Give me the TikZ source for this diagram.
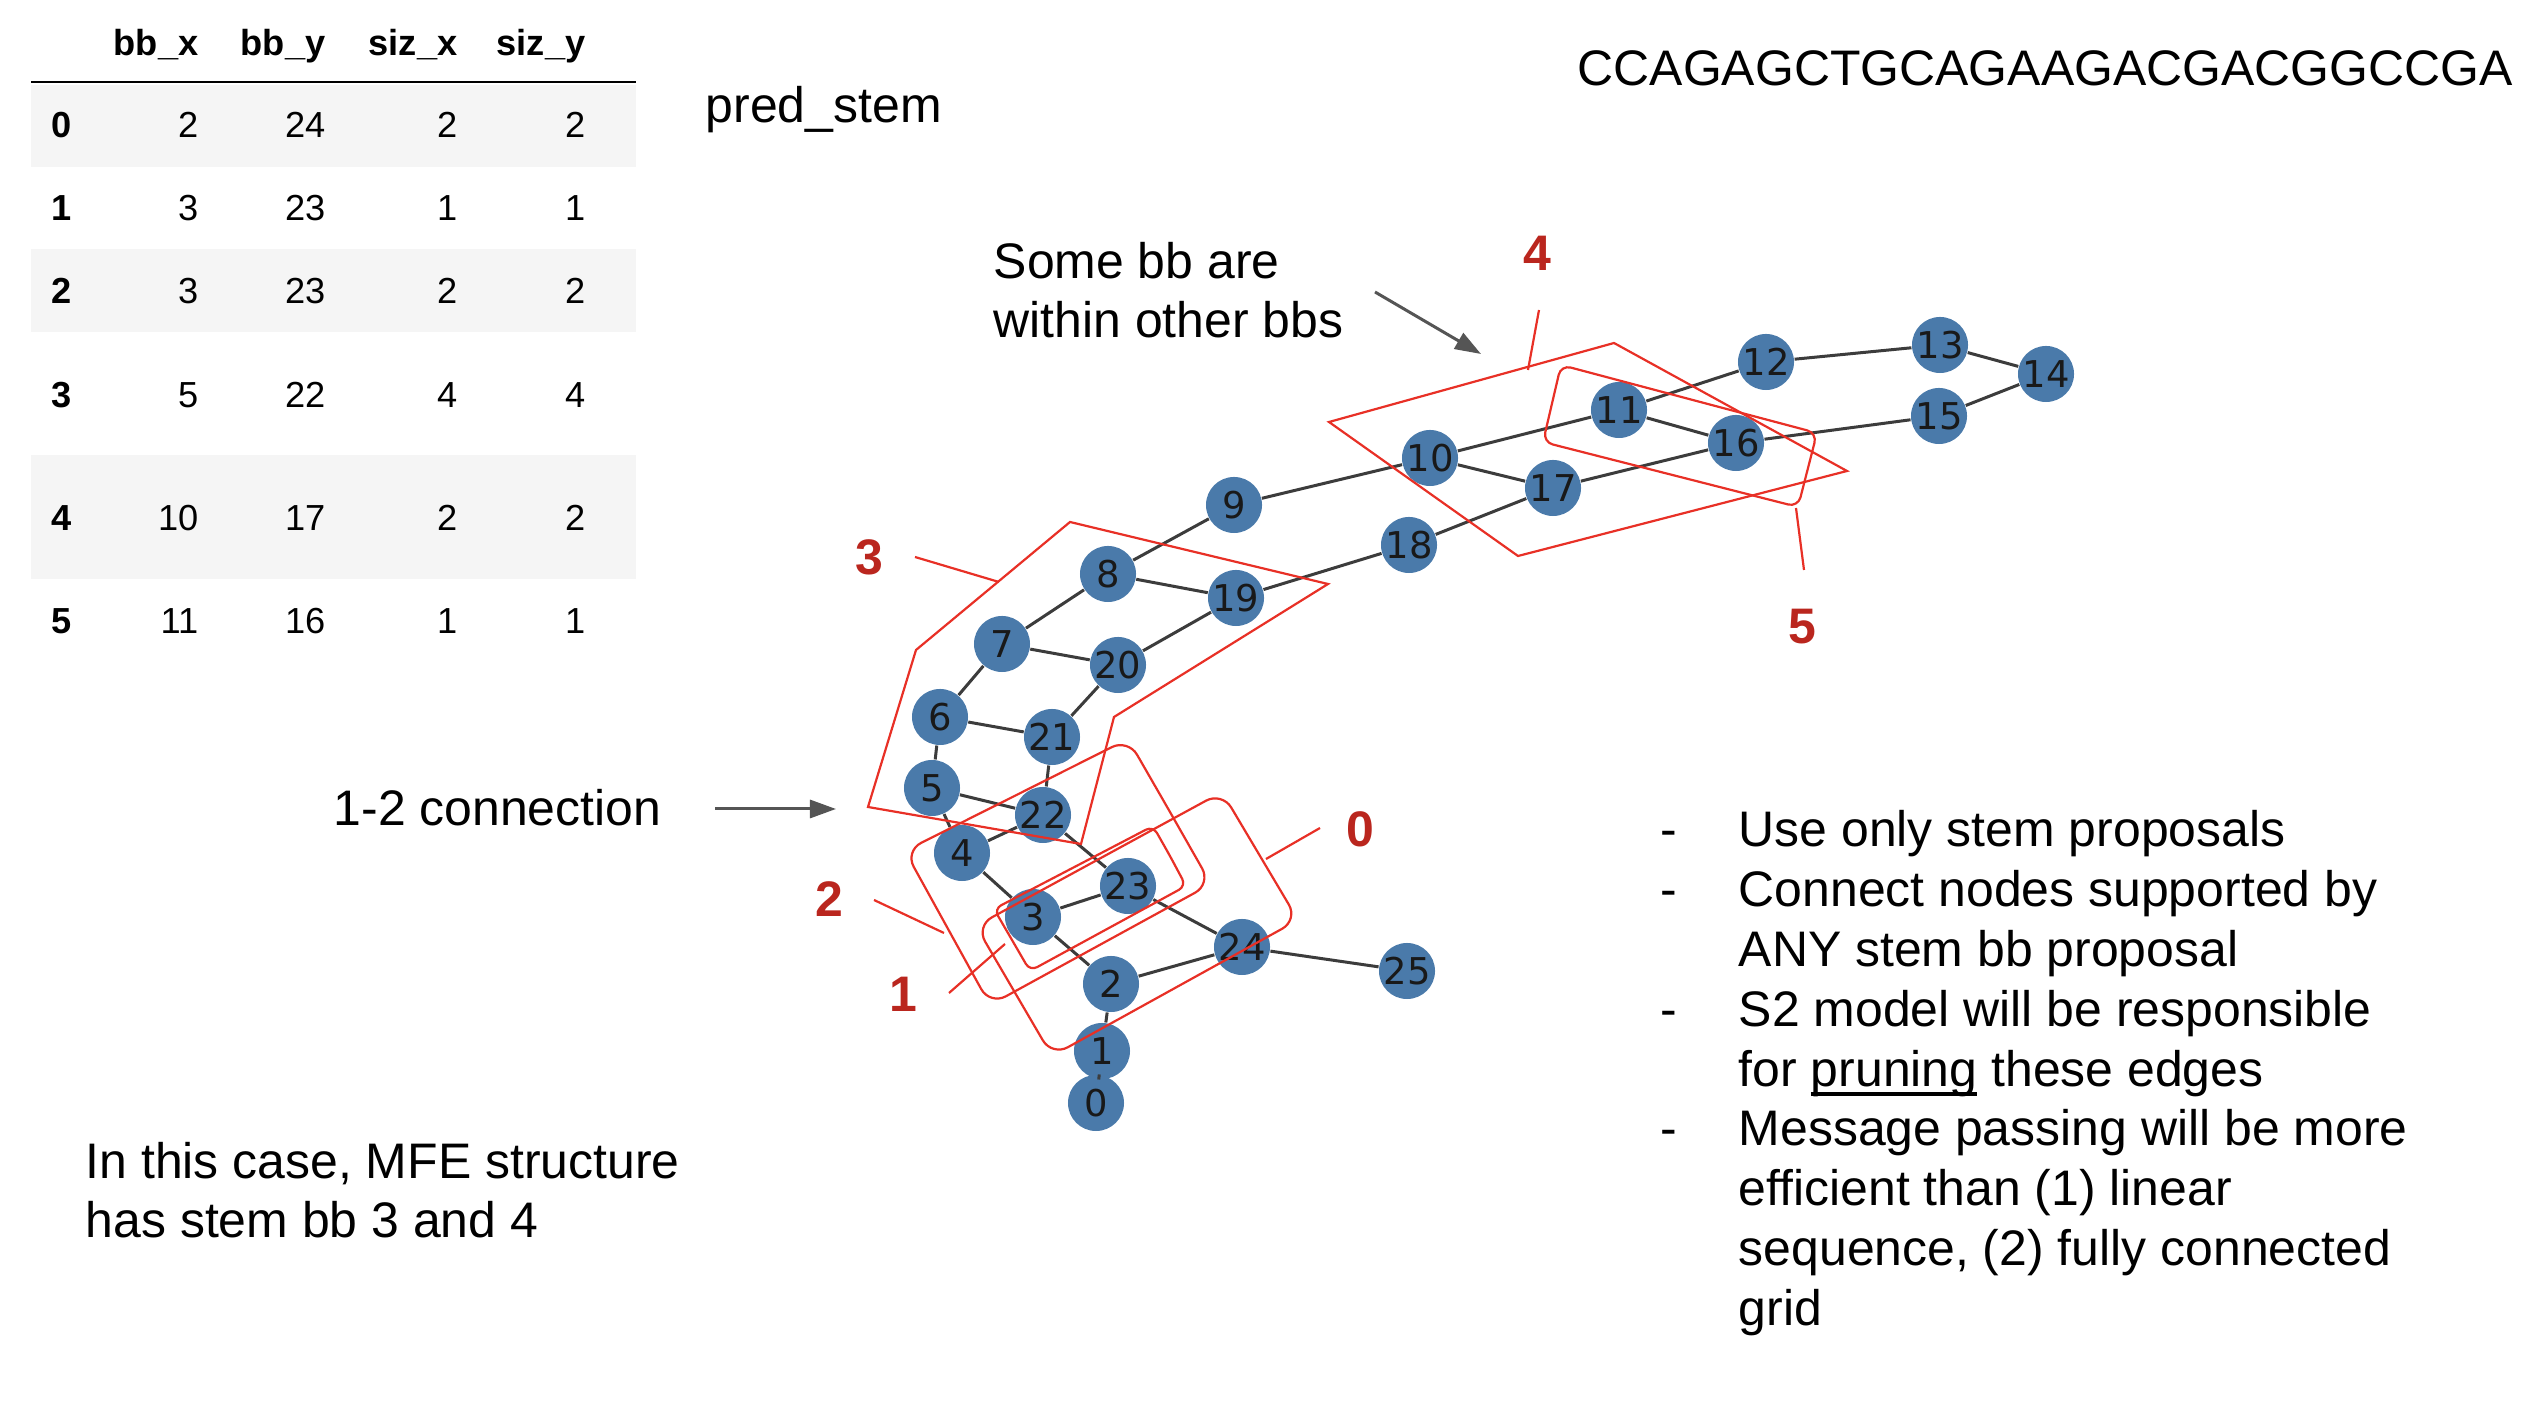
\documentclass[tikz,border=0pt]{standalone}
\usepackage{fontspec}
\setmainfont{Liberation Sans}
\newfontfamily\vtxfont{DejaVu Sans}
\usetikzlibrary{arrows.meta,positioning}

\definecolor{vtxblue}{RGB}{74,122,170}
\definecolor{bbred}{RGB}{232,48,38}
\definecolor{labred}{RGB}{186,38,30}
\definecolor{linkgray}{RGB}{60,60,60}
\definecolor{ptrgray}{RGB}{85,85,85}
\definecolor{rowgray}{RGB}{245,245,245}

\newsavebox\ulbox
\newcommand\thickul[1]{\sbox\ulbox{#1}\rlap{\rule[-2.9pt]{\wd\ulbox}{1.1pt}}\usebox\ulbox}

\begin{document}
\begin{tikzpicture}[x=0.01cm, y=-0.01cm,
    vtx/.style={circle, fill=vtxblue, minimum size=0.56cm, inner sep=0pt,
      font=\vtxfont\fontsize{10.5}{12}\selectfont, text=black!90},
    link/.style={draw=linkgray, line width=0.03cm},
    bbox/.style={draw=bbred, line width=0.022cm},
    bblab/.style={text=labred, inner sep=0pt, font=\bfseries\fontsize{14.2}{17}\selectfont},
    lead/.style={draw=bbred, line width=0.022cm},
    note/.style={anchor=base west, inner sep=0pt, align=left,
      font=\fontsize{14.2}{17}\selectfont},
    pointer/.style={draw=ptrgray, line width=0.03cm,
      -{Triangle[length=0.26cm,width=0.18cm]}},
    cell/.style={anchor=base east, inner sep=0pt, font=\fontsize{10.3}{12}\selectfont},
    hdr/.style={cell, font=\bfseries\fontsize{10.3}{12}\selectfont},
    idx/.style={cell, anchor=base west, font=\bfseries\fontsize{10.3}{12}\selectfont}]
    \useasboundingbox (0,0) rectangle (2544,1410);

    % pred_stem table
    \fill [rowgray] (31,85) rectangle (636,167);
    \fill [rowgray] (31,249) rectangle (636,332);
    \fill [rowgray] (31,455) rectangle (636,579);
    \draw [line width=0.02cm] (31,82) -- (636,82);
    \node [hdr] (hbbx) at (199,56) {bb\_x};
    \node [hdr] (hbby) at (326,56) {bb\_y};
    \node [hdr] (hsizx) at (458,56) {siz\_x};
    \node [hdr] (hsizy) at (586,56) {siz\_y};
    \foreach \r/\y/\a/\b/\c/\d in {0/138/2/24/2/2, 1/221/3/23/1/1, 2/304/3/23/2/2,
        3/408/5/22/4/4, 4/531/10/17/2/2, 5/634/11/16/1/1} {
      \node [idx] (i\r) at (51,\y) {\r};
      \node [cell] (bbx\r) at (199,\y) {\a};
      \node [cell] (bby\r) at (326,\y) {\b};
      \node [cell] (sizx\r) at (458,\y) {\c};
      \node [cell] (sizy\r) at (586,\y) {\d};
    }

    % texts (multi-line notes sit on their last baseline)
    \node [note] (title) at (705,123) {pred\_stem};
    \node [note] (seq) at (1577,86) {CCAGAGCTGCAGAAGACGACGGCCGA};
    \node [note] (within) at (993,338) {Some bb are\\within other bbs};
    \node [note] (conn) at (333,826) {1-2 connection};
    \node [note] (mfe) at (85,1238) {In this case, MFE structure\\has stem bb 3 and 4};
    \node [note] (bullets) at (1660,847) {\begin{tabular}[t]{@{}p{0.78cm}@{}l@{}}
      -&Use only stem proposals\\
      -&Connect nodes supported by\\
       &ANY stem bb proposal\\
      -&S2 model will be responsible\\
       &for \thickul{pruning} these edges\\
      -&Message passing will be more\\
       &efficient than (1) linear\\
       &sequence, (2) fully connected\\
       &grid
    \end{tabular}};

    % graph
    \node [vtx] (n0) at (1096,1103) {0};
    \node [vtx] (n1) at (1102,1051) {1};
    \node [vtx] (n2) at (1111,984) {2};
    \node [vtx] (n3) at (1033,917) {3};
    \node [vtx] (n4) at (962,853) {4};
    \node [vtx] (n5) at (932,788) {5};
    \node [vtx] (n6) at (940,717) {6};
    \node [vtx] (n7) at (1002,644) {7};
    \node [vtx] (n8) at (1108,574) {8};
    \node [vtx] (n9) at (1234,505) {9};
    \node [vtx] (n10) at (1430,458) {10};
    \node [vtx] (n11) at (1619,410) {11};
    \node [vtx] (n12) at (1766,362) {12};
    \node [vtx] (n13) at (1940,345) {13};
    \node [vtx] (n14) at (2046,374) {14};
    \node [vtx] (n15) at (1939,416) {15};
    \node [vtx] (n16) at (1736,443) {16};
    \node [vtx] (n17) at (1553,488) {17};
    \node [vtx] (n18) at (1409,545) {18};
    \node [vtx] (n19) at (1236,598) {19};
    \node [vtx] (n20) at (1118,665) {20};
    \node [vtx] (n21) at (1052,737) {21};
    \node [vtx] (n22) at (1043,815) {22};
    \node [vtx] (n23) at (1128,886) {23};
    \node [vtx] (n24) at (1242,947) {24};
    \node [vtx] (n25) at (1407,971) {25};
    \path [link] (n0) edge (n1) (n1) edge (n2) (n2) edge (n3) (n3) edge (n4)
                 (n4) edge (n5) (n5) edge (n6) (n6) edge (n7) (n7) edge (n8)
                 (n8) edge (n9) (n9) edge (n10) (n10) edge (n11) (n11) edge (n12)
                 (n12) edge (n13) (n13) edge (n14) (n14) edge (n15) (n15) edge (n16)
                 (n16) edge (n17) (n17) edge (n18) (n18) edge (n19) (n19) edge (n20)
                 (n20) edge (n21) (n21) edge (n22) (n22) edge (n23) (n23) edge (n24)
                 (n24) edge (n25);
    % pairs
    \path [link] (n2) edge (n24) (n3) edge (n23) (n4) edge (n22) (n5) edge (n22)
                 (n6) edge (n21) (n7) edge (n20) (n8) edge (n19) (n10) edge (n17)
                 (n11) edge (n16);

    % stem bounding boxes
    \draw [bbox, rounded corners=0.18cm] (1260,856) -- (1298,920) -- (1052,1056)
          -- (976,926) -- (1222,792) -- cycle;
    \draw [bbox, rounded corners=0.08cm] (1170,856) -- (1186,886) -- (1030,971)
          -- (994,909) -- (1153,826) -- cycle;
    \draw [bbox, rounded corners=0.18cm] (1170,812) -- (1211,884) -- (990,1005)
          -- (905,851) -- (1128,739) -- cycle;
    \draw [bbox] (1070,522) -- (1328,584) -- (1114,717) -- (1081,844)
          -- (868,807) -- (916,650) -- cycle;
    \draw [bbox] (1614,343) -- (1847,471) -- (1518,556) -- (1329,422) -- cycle;
    \draw [bbox, rounded corners=0.1cm] (1689,399) -- (1817,433) -- (1798,507)
          -- (1543,442) -- (1561,365) -- cycle;

    % box labels
    \node [bblab] (l0) at (1360,829) {0};
    \node [bblab] (l1) at (903,994) {1};
    \node [bblab] (l2) at (829,899) {2};
    \node [bblab] (l3) at (869,557) {3};
    \node [bblab] (l4) at (1537,253) {4};
    \node [bblab] (l5) at (1802,627) {5};
    \coordinate (t0) at (1320,828);  \coordinate (b0) at (1266,859);
    \coordinate (t1) at (949,993);   \coordinate (b1) at (1005,944);
    \coordinate (t2) at (874,900);   \coordinate (b2) at (944,933);
    \coordinate (t3) at (915,557);   \coordinate (b3) at (999,582);
    \coordinate (t4) at (1539,310);  \coordinate (b4) at (1528,370);
    \coordinate (t5) at (1804,570);  \coordinate (b5) at (1796,508);
    \foreach \i in {0,...,5}
      \draw [lead] (t\i) -- (b\i);

    % pointers
    \coordinate (wa) at (1375,292);  \coordinate (wb) at (1481,354);
    \coordinate (ca) at (715,809);   \coordinate (cb) at (836,809);
    \draw [pointer] (wa) -- (wb);
    \draw [pointer] (ca) -- (cb);
\end{tikzpicture}
\end{document}
